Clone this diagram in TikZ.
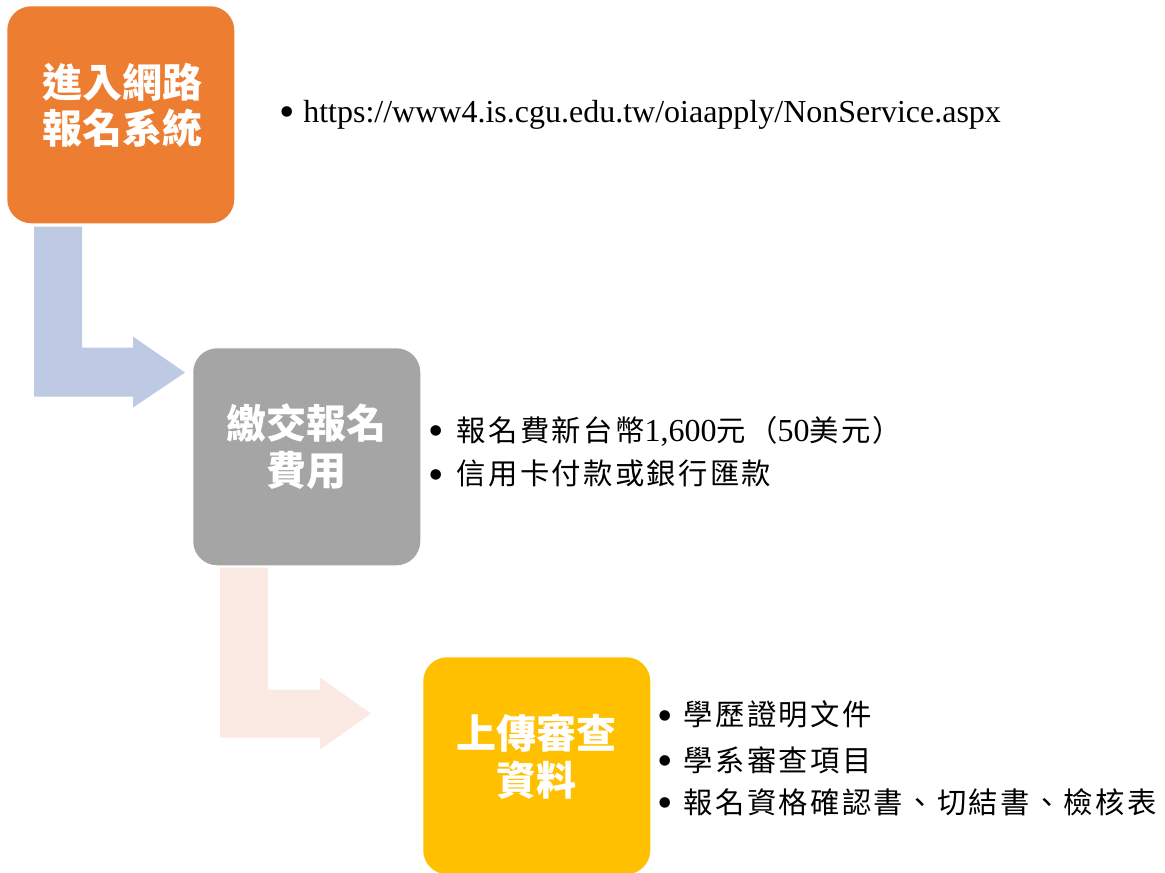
\documentclass[tikz,border=0pt]{standalone}
\usepackage{fontspec}
\setmainfont{Liberation Serif}
\newfontfamily\cjk[LetterSpace=8]{Noto Sans CJK TC}
\newfontfamily\cjktitle{Noto Sans CJK TC}
\usetikzlibrary{calc}
\definecolor{boxorange}{HTML}{ED7D31}
\definecolor{boxgray}{HTML}{A5A5A5}
\definecolor{boxgold}{HTML}{FFC000}
\definecolor{arrowblue}{RGB}{190,201,227}
\definecolor{arrowpink}{RGB}{251,233,228}
\newcommand\cj[1]{{\cjk\fontsize{22pt}{28pt}\selectfont #1}}
\newcommand\bul[1]{\raisebox{-3.5pt}{\fontsize{33pt}{33pt}\selectfont •}\hspace{#1}}
\begin{document}
\begin{tikzpicture}[x=0.75pt,y=-0.75pt,
  stepbox/.style={rounded corners=18pt, minimum width=170.25pt, minimum height=162.75pt, inner sep=0pt, anchor=north west},
  titletext/.style={text=white, align=center, inner sep=0pt, font=\cjktitle\bfseries\fontsize{30pt}{35pt}\selectfont},
  itemtext/.style={anchor=base west, inner sep=0pt, font=\fontsize{24pt}{28pt}\selectfont}]
\useasboundingbox (0,0) rectangle (1165,872);
\clip (0,0) rectangle (1165,872);
% boxes
\node[stepbox, fill=boxorange] (b1) at (7,6) {};
\node[stepbox, fill=boxgray] (b2) at (193,348) {};
\node[stepbox, fill=boxgold] (b3) at (423,657) {};
% bent arrows
\fill[arrowblue] ($(b1.south west)+(27,3)$) -- ++(48,0) -- ++(0,121) -- ++(51,0) -- ++(0,-11) -- ++(52,36) -- ++(-52,35) -- ++(0,-11) -- ++(-99,0) -- cycle;
\fill[arrowpink] ($(b2.south west)+(27,2)$) -- ++(48,0) -- ++(0,122) -- ++(52,0) -- ++(0,-12) -- ++(51,36) -- ++(-51,36) -- ++(0,-12) -- ++(-100,0) -- cycle;
% titles
\node[titletext] (t1) at ($(b1.center)+(1.5,-9.5)$) {進入網路\\報名系統};
\node[titletext] (t2) at ($(b2.center)+(0,-10)$) {繳交報名\\費用};
\node[titletext] (t3) at ($(b3.center)+(0,-9)$) {上傳審查\\資料};
% items
\node[itemtext] (u1) at (278.8,122) {\bul{6.6pt}https://www4.is.cgu.edu.tw/oiaapply/NonService.aspx};
\node[itemtext] (p1) at (427.8,441) {\bul{10pt}\cj{報名費新台幣}1,600\cj{元（}50\cj{美元）}};
\node[itemtext] (p2) at (427.8,484.5) {\bul{10pt}\cj{信用卡付款或銀行匯款}};
\node[itemtext] (d1) at (657.3,725.5) {\bul{8.1pt}\cj{學歷證明文件}};
\node[itemtext] (d2) at (657.3,771) {\bul{8.1pt}\cj{學系審查項目}};
\node[itemtext] (d3) at (657.3,813) {\bul{8.1pt}\cj{報名資格確認書、切結書、檢核表}};
\end{tikzpicture}
\end{document}
